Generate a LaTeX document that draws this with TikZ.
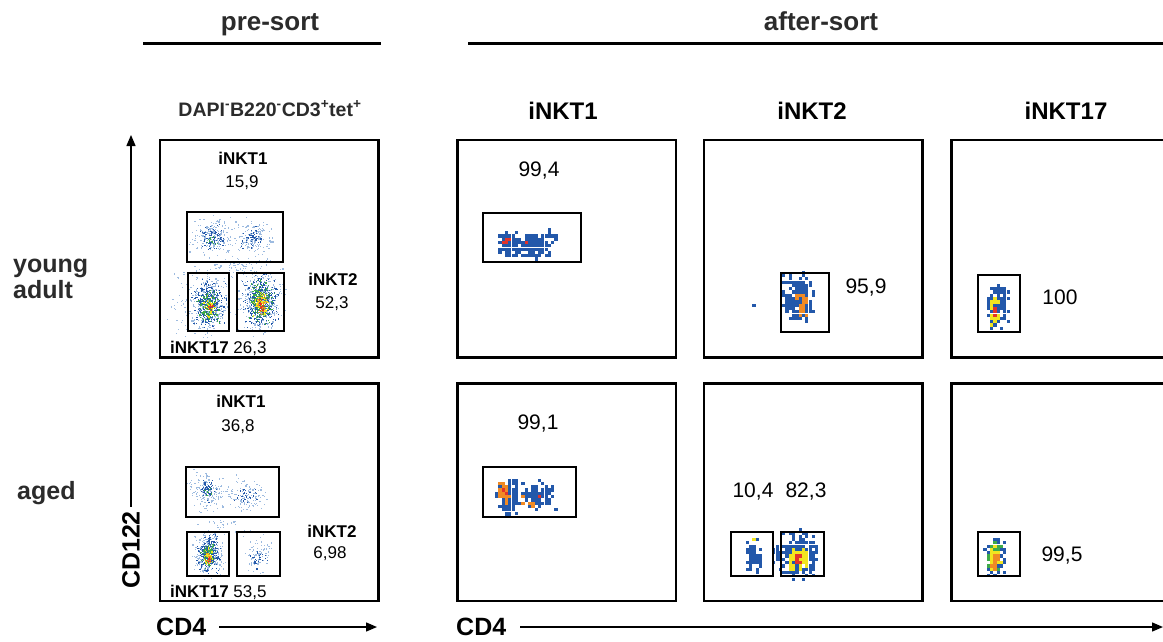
\documentclass[tikz,border=0pt]{standalone}
\usepackage{fontspec}
\setmainfont{Liberation Sans}
\usetikzlibrary{arrows.meta}

\definecolor{ink}{HTML}{2B2B2B}
\definecolor{pale}{HTML}{9DBBE0}
\definecolor{deep}{HTML}{2358AA}
\definecolor{fgreen}{HTML}{3DAA4A}
\definecolor{fyellow}{HTML}{F2E51F}
\definecolor{forange}{HTML}{F08A24}
\definecolor{fred}{HTML}{E2332A}

% random event cloud: cx, cy, half-width, half-height, count, dot size, colour
\newcommand\flowcloud[7]{%
  \foreach \k in {1,...,#5}{%
    \pgfmathsetmacro\ex{#1+#3*(rand+rand+rand)/3}%
    \pgfmathsetmacro\ey{#2+#4*(rand+rand+rand)/3}%
    \fill[#7] (\ex,\ey) rectangle ++(#6,#6);%
  }}
% same, but events binned on a coarse pixel grid
\newcommand\flowgrid[6]{%
  \foreach \k in {1,...,#5}{%
    \pgfmathsetmacro\ex{3.3*round((#1+#3*(rand+rand)/2)/3.3)}%
    \pgfmathsetmacro\ey{3.3*round((#2+#4*(rand+rand)/2)/3.3)}%
    \fill[#6] (\ex,\ey) rectangle ++(3.2,3.2);%
  }}

\begin{document}
\begin{tikzpicture}[x=1pt,y=-1pt,
  hdr/.style={font=\fontsize{26}{28}\selectfont\bfseries, text=ink, inner sep=0, anchor=base},
  colhead/.style={font=\fontsize{24}{26}\selectfont\bfseries, inner sep=0, anchor=base},
  rowhead/.style={font=\fontsize{25}{27}\selectfont\bfseries, text=ink, inner sep=0, anchor=base west},
  axlab/.style={font=\fontsize{25}{27}\selectfont\bfseries, inner sep=0},
  pct/.style={font=\fontsize{21}{24}\selectfont, inner sep=0, anchor=base},
  spct/.style={font=\fontsize{17}{20}\selectfont, inner sep=0, anchor=base},
  slab/.style={font=\fontsize{17}{20}\selectfont\bfseries, inner sep=0, anchor=base},
  panel/.style={draw, line width=2.6pt, minimum width=218.5pt, minimum height=217.5pt, inner sep=0},
  gate/.style={draw, line width=1.1pt},
  rule/.style={line width=3pt},
  axis/.style={line width=1.4pt, -{Triangle[length=11pt,width=9pt]}}]

\useasboundingbox (0,0) rectangle (1163,641);
\clip (0,0) rectangle (1163,641);
\fill[white] (0,0) rectangle (1163,641);
\pgfmathsetseed{11}

% ---------- headings ----------
\node[hdr] (pre) at (270,30) {pre-sort};
\node[hdr] (after) at (821,30) {after-sort};
\coordinate (preL) at (143,43.5);  \coordinate (preR) at (381,43.5);
\coordinate (aftL) at (468,43.5);  \coordinate (aftR) at (1163,43.5);
\draw[rule] (preL) -- (preR);
\draw[rule] (aftL) -- (aftR);

\node[font=\fontsize{19.5}{21}\selectfont\bfseries, text=ink, inner sep=0, anchor=base] (gating) at (270,116)
  {DAPI\textsuperscript{-}B220\textsuperscript{-}CD3\textsuperscript{+}tet\textsuperscript{+}};
\node[colhead] (h1) at (563,119) {iNKT1};
\node[colhead] (h2) at (812,119) {iNKT2};
\node[colhead] (h17) at (1066,119) {iNKT17};

\node[rowhead] (young) at (13,272) {young};
\node[rowhead] (adult) at (13,298) {adult};
\node[rowhead] (aged) at (17,499) {aged};

% ---------- pre-sort events ----------
\begin{scope}
  \clip (160,140) rectangle (378.5,357.5);
  \flowcloud{212}{237}{30}{26}{220}{1.2}{pale}
  \flowcloud{212}{237}{16}{16}{70}{1.2}{deep}
  \flowcloud{212}{240}{8}{8}{12}{1.2}{fgreen}
  \flowcloud{252}{238}{28}{24}{160}{1.2}{pale}
  \flowcloud{250}{238}{14}{16}{45}{1.2}{deep}
  \flowcloud{235}{268}{50}{14}{60}{1.2}{pale}
  \flowcloud{180}{300}{16}{44}{35}{1.2}{pale}
  \flowcloud{208}{303}{28}{40}{380}{1.2}{pale}
  \flowcloud{208}{303}{21}{32}{280}{1.2}{deep}
  \flowcloud{208}{305}{14}{22}{130}{1.2}{fgreen}
  \flowcloud{209}{306}{8}{14}{40}{1.2}{fyellow}
  \flowcloud{209}{307}{4}{8}{10}{1.2}{fred}
  \flowcloud{260}{300}{30}{42}{440}{1.2}{pale}
  \flowcloud{260}{300}{23}{34}{330}{1.2}{deep}
  \flowcloud{260}{302}{16}{26}{220}{1.2}{fgreen}
  \flowcloud{261}{303}{10}{18}{100}{1.2}{fyellow}
  \flowcloud{261}{305}{6}{13}{40}{1.2}{forange}
  \flowcloud{261}{305}{4}{9}{15}{1.2}{fred}
\end{scope}
\begin{scope}
  \clip (160,383.5) rectangle (378.5,601);
  \flowcloud{207}{490}{26}{26}{170}{1.2}{pale}
  \flowcloud{207}{490}{12}{14}{55}{1.2}{deep}
  \flowcloud{208}{490}{5}{6}{8}{1.2}{fgreen}
  \flowcloud{245}{495}{30}{24}{130}{1.2}{pale}
  \flowcloud{245}{495}{17}{14}{30}{1.2}{deep}
  \flowcloud{225}{525}{34}{12}{25}{1.2}{pale}
  \flowcloud{208}{553}{21}{30}{320}{1.2}{pale}
  \flowcloud{208}{553}{15}{23}{230}{1.2}{deep}
  \flowcloud{208}{555}{10}{16}{100}{1.2}{fgreen}
  \flowcloud{208}{556}{7}{11}{45}{1.2}{fyellow}
  \flowcloud{208}{558}{4}{8}{20}{1.2}{forange}
  \flowcloud{208}{559}{3}{4}{8}{1.2}{fred}
  \flowcloud{258}{555}{20}{24}{80}{1.2}{pale}
  \flowcloud{258}{557}{12}{14}{22}{1.2}{deep}
\end{scope}

% ---------- after-sort events ----------
% iNKT1, young adult
\flowgrid{508}{243}{12}{16}{110}{deep}
\flowgrid{533}{245}{18}{14}{90}{deep}
\flowgrid{550}{234}{9}{8}{10}{deep}
\flowgrid{505}{238}{5}{7}{5}{fred}
\flowgrid{526}{244}{2}{2}{1}{fred}
% iNKT1, aged
\flowgrid{506}{495}{12}{20}{120}{deep}
\flowgrid{535}{495}{20}{16}{90}{deep}
\flowgrid{503}{494}{6}{14}{28}{forange}
\flowgrid{525}{500}{12}{8}{6}{forange}
\flowgrid{503}{489}{3}{3}{3}{fred}
\flowgrid{536}{494}{1}{1}{1}{fred}
% iNKT2, young adult
\flowgrid{797}{296}{16}{26}{190}{deep}
\flowgrid{801}{303}{6}{16}{24}{forange}
\flowgrid{753}{304}{0}{0}{1}{deep}
% iNKT17, young adult
\flowgrid{996}{305}{12}{24}{110}{deep}
\flowgrid{993}{308}{5}{18}{22}{fyellow}
\flowgrid{993}{311}{3}{6}{6}{fred}
% iNKT2, aged
\flowgrid{752}{555}{9}{18}{70}{deep}
\flowgrid{775}{555}{6}{14}{25}{deep}
\flowgrid{797}{553}{18}{26}{230}{deep}
\flowgrid{797}{558}{11}{13}{60}{fyellow}
\flowgrid{796}{558}{3}{5}{6}{fred}
\flowgrid{751}{539}{0}{0}{1}{fyellow}
% iNKT17, aged
\flowgrid{994}{555}{11}{22}{90}{deep}
\flowgrid{993}{555}{8}{18}{60}{fgreen}
\flowgrid{993}{557}{6}{13}{35}{fyellow}
\flowgrid{993}{560}{4}{9}{20}{forange}

% ---------- plot frames ----------
\node[panel] (yPre) at (269.25,248.75) {};
\node[panel] (y1)   at (566.75,248.75) {};
\node[panel] (y2)   at (813.25,248.75) {};
\node[panel] (y17)  at (1060.75,248.75) {};
\node[panel] (aPre) at (269.25,492.25) {};
\node[panel] (a1)   at (566.75,492.25) {};
\node[panel] (a2)   at (813.25,492.25) {};
\node[panel] (a17)  at (1060.75,492.25) {};

% ---------- gates ----------
\draw[gate] (187,212) rectangle (283,262);
\draw[gate] (188,273) rectangle (229,331);
\draw[gate] (237,273) rectangle (284,331);
\draw[gate] (186,467) rectangle (279,517);
\draw[gate] (187,532) rectangle (229,576);
\draw[gate] (237,532) rectangle (280,576);
\draw[gate] (483,213) rectangle (581,262);
\draw[gate] (483,467) rectangle (576,517);
\draw[gate] (781,273) rectangle (829,332);
\draw[gate] (978,275) rectangle (1020,332);
\draw[gate] (731,532) rectangle (773,576);
\draw[gate] (781,532) rectangle (824,576);
\draw[gate] (978,532) rectangle (1020,576);

% ---------- gate frequencies ----------
\node[slab] (g1y) at (243,164) {iNKT1};
\node[spct] (v1y) at (242,187) {15,9};
\node[slab] (g2y) at (333,285) {iNKT2};
\node[spct] (v2y) at (332,308) {52,3};
\node[spct, anchor=base west] (g17y) at (170,353) {\textbf{iNKT17} 26,3};
\node[slab] (g1a) at (241,407) {iNKT1};
\node[spct] (v1a) at (238,431) {36,8};
\node[slab] (g2a) at (332,537) {iNKT2};
\node[spct] (v2a) at (330,558) {6,98};
\node[spct, anchor=base west] (g17a) at (170,597) {\textbf{iNKT17} 53,5};

\node[pct] (s1y) at (539,176) {99,4};
\node[pct] (s2y) at (866,293) {95,9};
\node[pct] (s17y) at (1060,304) {100};
\node[pct] (s1a) at (538,429) {99,1};
\node[pct] (s2a) at (753,497) {10,4};
\node[pct] (s2b) at (806,497) {82,3};
\node[pct] (s17a) at (1062,561) {99,5};

% ---------- axes ----------
\node[axlab, rotate=90] (cd122) at (131,550) {CD122};
\coordinate (cd122tip) at (131,135);
\draw[axis, shorten <=4pt] (cd122.east) -- (cd122tip);

\node[axlab, anchor=west] (cd4a) at (156,627) {CD4};
\coordinate (cd4atip) at (377,627);
\draw[axis, shorten <=13pt] (cd4a.east) -- (cd4atip);

\node[axlab, anchor=west] (cd4b) at (456,627) {CD4};
\coordinate (cd4btip) at (1163,627);
\draw[axis, shorten <=14pt] (cd4b.east) -- (cd4btip);
\end{tikzpicture}
\end{document}
